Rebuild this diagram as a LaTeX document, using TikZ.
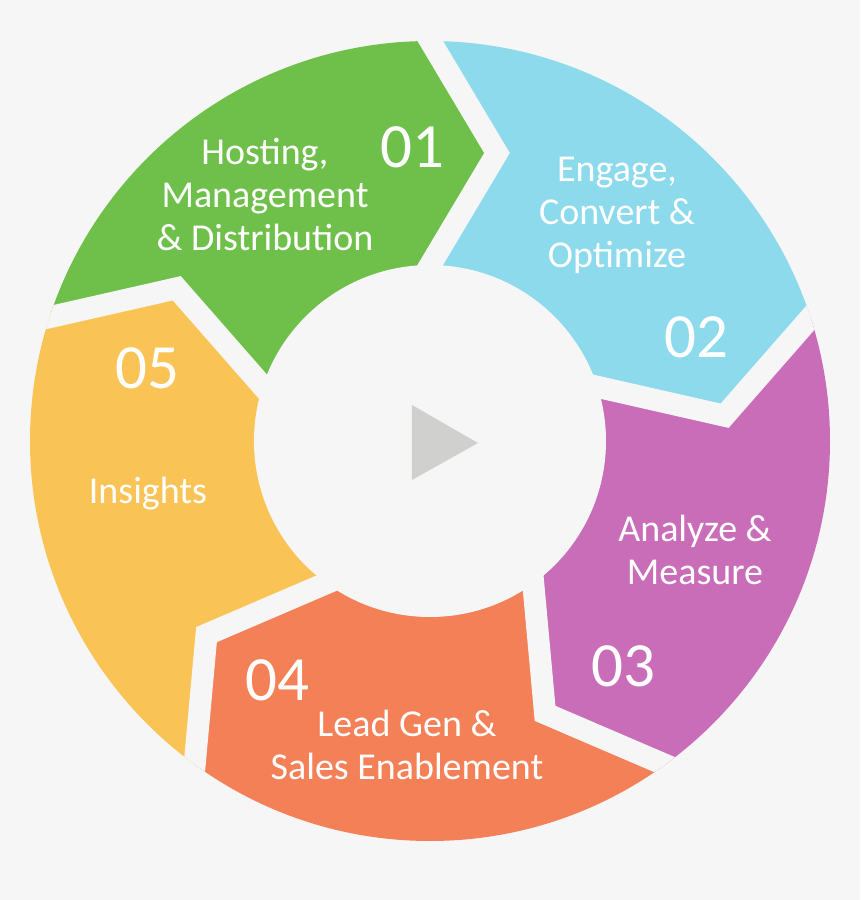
\documentclass[tikz,border=0pt]{standalone}
\usepackage{fontspec}
\setmainfont{Carlito}
\usepackage{xcolor}
\usepackage{tikz}
\usetikzlibrary{calc}
\definecolor{cbg}{HTML}{F6F6F6}
\definecolor{cgreen}{HTML}{6FC04B}
\definecolor{cblue}{HTML}{8CDAEC}
\definecolor{cpurple}{HTML}{C96DB9}
\definecolor{corange}{HTML}{F48057}
\definecolor{cyellow}{HTML}{F9C455}
\definecolor{cplay}{HTML}{D0D0CE}

\begin{document}
\begin{tikzpicture}[
    x=1pt, y=1pt,
    segtext/.style={text=white, align=center, inner sep=0pt,
        font=\fontsize{38}{43}\selectfont},
    segnum/.style={text=white, inner sep=0pt,
        font=\fontsize{63}{63}\selectfont},
    gapline/.style={draw=cbg, line width=22pt, line join=miter,
        miter limit=10},
]

% =====================================================================
% LAYOUT: ring of five chevron segments round (0,0), outer radius 400,
% hub radius 176. Boundaries every 72 deg, starting at 162 deg and
% going clockwise; every tip points clockwise.
% =====================================================================

% --- Page / background ------------------------------------------------
\fill[cbg] (-430,441) rectangle (430,-459);

% --- Boundary points (tip is 67 off the radial line, at r = 288) -----
\foreach \k/\a in {0/162,1/90,2/18,3/-54,4/-126,5/-198}{
    \begin{scope}[rotate=\a-90]
        \coordinate (out\k) at (-20,434);
        \coordinate (tip\k) at (67,288);
        \coordinate (in\k)  at (-20,142);
        \coordinate (far\k) at (0,800);
    \end{scope}
}

% --- Segments (clipped to the outer circle) --------------------------
\begin{scope}
    \clip (0,0) circle (400);
    \foreach \j/\k/\col/\s in {0/1/cgreen/126, 1/2/cblue/54,
        2/3/cpurple/-18, 3/4/corange/-90, 4/5/cyellow/-162}{
        \fill[\col] (out\j) -- (tip\j) -- (in\j) -- (0,0) -- (in\k)
            -- (tip\k) -- (out\k) -- (far\k) -- (\s:800) -- (far\j)
            -- cycle;
    }
    % white gaps between the segments
    \foreach \k in {0,...,4}
        \draw[gapline] (out\k) -- (tip\k) -- (in\k);
\end{scope}

% --- Hub with play button --------------------------------------------
\fill[cbg] (0,0) circle (176);
\fill[cplay] (-18,36) -- (-18,-39) -- (48,-2) -- cycle;

% =====================================================================
% Texts ---------------------------------------------------------------
% =====================================================================
\node[segnum]  (n01)      at (-18,294)   {01};
\node[segtext] (host)     at (-165,246)  {Hosting,\\Management\\\& Distribution};

\node[segnum]  (n02)      at (266,104)   {02};
\node[segtext] (engage)   at (187,226)   {Engage,\\Convert \&\\Optimize};

\node[segnum]  (n03)      at (193,-225)  {03};
\node[segtext] (analyze)  at (265,-109)  {Analyze \&\\Measure};

\node[segnum]  (n04)      at (-153,-239) {04};
\node[segtext] (leadgen)  at (-23,-304)  {Lead Gen \&\\Sales Enablement};

\node[segnum]  (n05)      at (-283,73)   {05};
\node[segtext] (insights) at (-282,-53)  {Insights};

\end{tikzpicture}
\end{document}
